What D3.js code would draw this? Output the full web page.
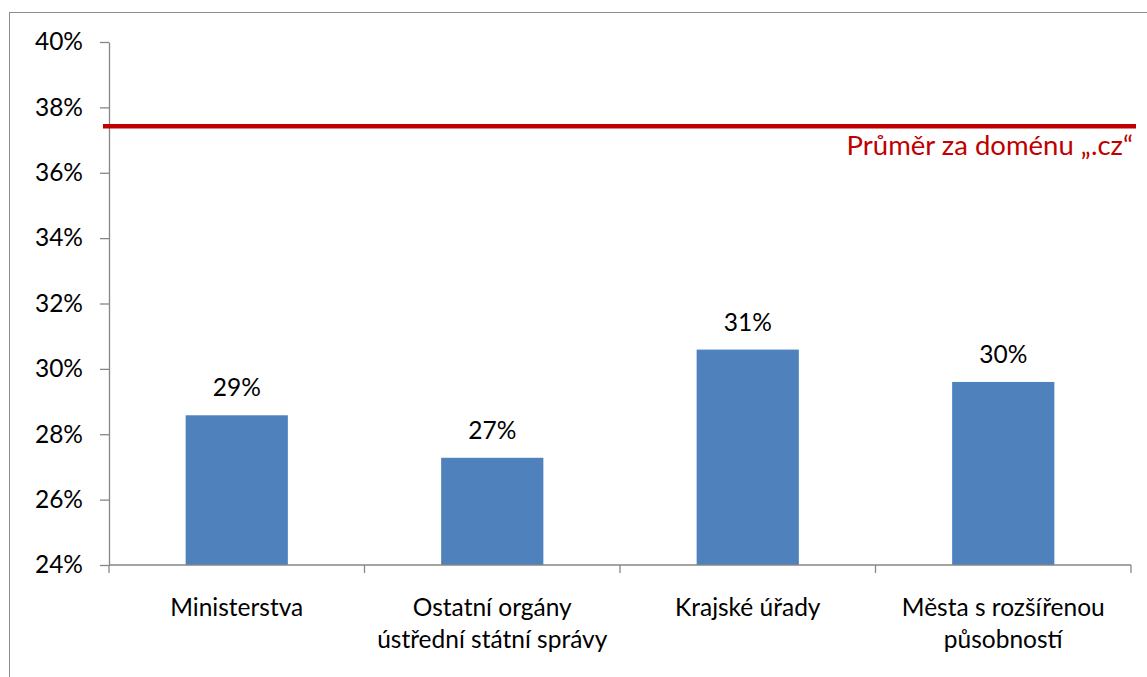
<!DOCTYPE html>
<html>
<head>
<meta charset="utf-8">
<script src="https://cdn.jsdelivr.net/npm/d3@7"></script>
<style>
  html, body { margin: 0; padding: 0; background: #fff; }
  svg { display: block; font-family: Lato, "Open Sans", sans-serif; }
</style>
</head>
<body>
<svg id="chart" width="1147" height="677"></svg>
<script>
// ---- data ----
const categories = [
  ["Ministerstva"],
  ["Ostatní orgány", "ústřední státní správy"],
  ["Krajské úřady"],
  ["Města s rozšířenou", "působností"]
];
const values = [28.58, 27.28, 30.59, 29.6];
const valueLabels = ["29%", "27%", "31%", "30%"];
const yTicks = [24, 26, 28, 30, 32, 34, 36, 38, 40];
const averageValue = 37.42;
const averageLabel = "Průměr za doménu „.cz“";

(function () {
// ---- layout ----
const svg = d3.select("#chart");
const pLeft = 109, pRight = 1131, pTop = 42, pBottom = 565;
const fontSize = 24.5;

const keys = categories.map((c, i) => i);
const x = d3.scaleBand().domain(keys).range([pLeft, pRight]).paddingInner(0.6).paddingOuter(0.3);
const y = d3.scaleLinear().domain([24, 40]).range([pBottom, pTop]);

// outer frame
svg.append("rect")
  .attr("x", 9.5).attr("y", 12.5)
  .attr("width", 1200).attr("height", 800)
  .attr("fill", "none").attr("stroke", "#8c8c8c").attr("stroke-width", 1);

// bars
svg.append("g").selectAll("rect")
  .data(values)
  .join("rect")
  .attr("x", (d, i) => x(i))
  .attr("y", d => y(d))
  .attr("width", x.bandwidth())
  .attr("height", d => y(24) - y(d))
  .attr("fill", "#4F81BD");

// y axis
const yAxis = svg.append("g")
  .attr("transform", `translate(${pLeft},0)`)
  .call(d3.axisLeft(y).tickValues(yTicks).tickSize(9).tickSizeOuter(0).tickPadding(17)
        .tickFormat(d => d + "%"));
yAxis.select(".domain").attr("stroke", "#868686").attr("stroke-width", 1.3);
yAxis.selectAll(".tick line").attr("stroke", "#868686").attr("stroke-width", 1.3);
yAxis.selectAll(".tick text")
  .attr("font-size", fontSize).attr("fill", "#000")
  .attr("font-family", "Lato, sans-serif");

// x axis baseline and boundary ticks
const gap = (x.step() - x.bandwidth()) / 2;
const boundaries = keys.map(i => x(i) - gap).concat([x(keys.length - 1) + x.bandwidth() + gap]);
const xAxis = svg.append("g");
xAxis.append("line")
  .attr("x1", boundaries[0]).attr("x2", boundaries[boundaries.length - 1])
  .attr("y1", y(24)).attr("y2", y(24))
  .attr("stroke", "#868686").attr("stroke-width", 1.3);
xAxis.selectAll("line.tk")
  .data(boundaries)
  .join("line")
  .attr("class", "tk")
  .attr("x1", d => d).attr("x2", d => d)
  .attr("y1", y(24)).attr("y2", y(24) + 8)
  .attr("stroke", "#868686").attr("stroke-width", 1.3);

// category labels
const catG = svg.append("g");
categories.forEach((lines, i) => {
  const t = catG.append("text")
    .attr("x", x(i) + x.bandwidth() / 2)
    .attr("y", y(24) + 51)
    .attr("text-anchor", "middle")
    .attr("font-size", fontSize)
    .attr("fill", "#000");
  lines.forEach((ln, j) => {
    t.append("tspan")
      .attr("x", x(i) + x.bandwidth() / 2)
      .attr("dy", j === 0 ? 0 : 32)
      .text(ln);
  });
});

// value labels
svg.append("g").selectAll("text")
  .data(values)
  .join("text")
  .attr("x", (d, i) => x(i) + x.bandwidth() / 2)
  .attr("y", d => y(d) - 19)
  .attr("text-anchor", "middle")
  .attr("font-size", fontSize)
  .attr("fill", "#000")
  .text((d, i) => valueLabels[i]);

// average line
svg.append("line")
  .attr("x1", pLeft - 6).attr("x2", pRight + 5)
  .attr("y1", y(averageValue)).attr("y2", y(averageValue))
  .attr("stroke", "#C00000").attr("stroke-width", 4.5);

svg.append("text")
  .attr("x", pRight + 2)
  .attr("y", y(averageValue) + 29)
  .attr("text-anchor", "end")
  .attr("font-size", 27.5)
  .attr("fill", "#C00000")
  .text(averageLabel);
})();
</script>
</body>
</html>
